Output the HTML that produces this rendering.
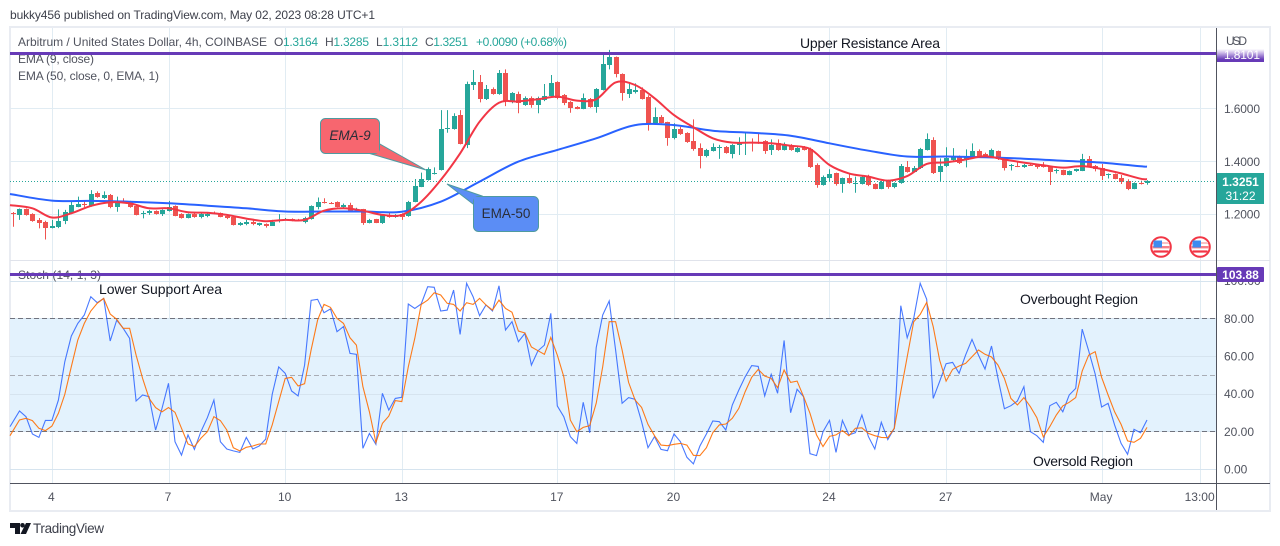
<!DOCTYPE html>
<html lang="en">
<head>
<meta charset="utf-8">
<title>Arbitrum / United States Dollar chart</title>
<style>
html,body{margin:0;padding:0;background:#fff;}
body{width:1280px;height:546px;overflow:hidden;}
svg{display:block;font-family:"Liberation Sans",sans-serif;}
</style>
</head>
<body>
<svg id="chart" xmlns="http://www.w3.org/2000/svg" width="1280" height="546" viewBox="0 0 1280 546">
  <defs>
    <linearGradient id="tagFade" x1="0" y1="0" x2="0" y2="1">
      <stop offset="0" stop-color="#ffffff"/>
      <stop offset="0.3" stop-color="#cbb8e8"/>
      <stop offset="0.8" stop-color="#673ab7"/>
      <stop offset="1" stop-color="#673ab7"/>
    </linearGradient>
  </defs>
  <rect x="0" y="0" width="1280" height="546" fill="#ffffff"/>
  <text x="10" y="19" font-size="12" fill="#3c3f4a" textLength="365" lengthAdjust="spacing">bukky456 published on TradingView.com, May 02, 2023 08:28 UTC+1</text>
  <rect x="10" y="27" width="1260" height="484" fill="#ffffff" stroke="#e9ecf2" stroke-width="2"/>

  <g id="gridLayer"></g>
  <g id="stochBackLayer"></g>
  <line x1="10" x2="1270" y1="260.5" y2="260.5" stroke="#e0e3eb" stroke-width="1"/>
  <g id="candleLayer"></g>
  <g id="lineLayer"></g>

  <polygon points="378,143 368,153 426,170" fill="#f7666f" stroke="#4f9aa0" stroke-width="1"/>
  <rect x="320.5" y="118.5" width="59" height="35" rx="5" fill="#f7666f" stroke="#4f9aa0" stroke-width="1"/>
  <polygon points="377,142 366,153 379,153 379,142" fill="#f7666f"/>
  <text x="350" y="140" font-size="13.5" font-style="italic" fill="#2a2e39" text-anchor="middle">EMA-9</text>

  <polygon points="447,184 473,204 482,196" fill="#5b8df5" stroke="#4f9aa0" stroke-width="1"/>
  <rect x="473.5" y="196.5" width="65" height="35" rx="5" fill="#5b8df5" stroke="#4f9aa0" stroke-width="1"/>
  <polygon points="474,203 483,197 474,197" fill="#5b8df5"/>
  <text x="506" y="218" font-size="13.5" fill="#2a2e39" text-anchor="middle">EMA-50</text>

  <text x="18" y="46" font-size="12" fill="#50535e" textLength="249" lengthAdjust="spacing">Arbitrum / United States Dollar, 4h, COINBASE</text>
  <text x="274" y="46" font-size="12" fill="#50535e" textLength="44" lengthAdjust="spacing">O<tspan fill="#26a69a">1.3164</tspan></text>
  <text x="325" y="46" font-size="12" fill="#50535e" textLength="44" lengthAdjust="spacing">H<tspan fill="#26a69a">1.3285</tspan></text>
  <text x="376" y="46" font-size="12" fill="#50535e" textLength="42" lengthAdjust="spacing">L<tspan fill="#26a69a">1.3112</tspan></text>
  <text x="425" y="46" font-size="12" fill="#50535e" textLength="43" lengthAdjust="spacing">C<tspan fill="#26a69a">1.3251</tspan></text>
  <text x="476" y="46" font-size="12" fill="#26a69a" textLength="91" lengthAdjust="spacing">+0.0090 (+0.68%)</text>
  <text x="18" y="63" font-size="12" fill="#50535e" textLength="76" lengthAdjust="spacing">EMA (9, close)</text>
  <text x="18" y="80" font-size="12" fill="#50535e" textLength="141" lengthAdjust="spacing">EMA (50, close, 0, EMA, 1)</text>
  <text x="18" y="279" font-size="12" fill="#50535e" textLength="83" lengthAdjust="spacing">Stoch (14, 1, 3)</text>

  <line x1="10" x2="1217" y1="53.5" y2="53.5" stroke="#673ab7" stroke-width="3"/>
  <line x1="10" x2="1217" y1="274.5" y2="274.5" stroke="#673ab7" stroke-width="3"/>

  <text x="800" y="48" font-size="14" fill="#131722" textLength="140" lengthAdjust="spacing">Upper Resistance Area</text>
  <text x="99" y="294" font-size="14" fill="#131722" textLength="123" lengthAdjust="spacing">Lower Support Area</text>
  <text x="1020" y="304" font-size="14" fill="#131722" textLength="118" lengthAdjust="spacing">Overbought Region</text>
  <text x="1033" y="466" font-size="14" fill="#131722" textLength="100" lengthAdjust="spacing">Oversold Region</text>

  <line x1="1216.5" x2="1216.5" y1="28" y2="510" stroke="#50535e" stroke-width="1"/>
  <line x1="10" x2="1270" y1="483.5" y2="483.5" stroke="#50535e" stroke-width="1"/>

  <g id="axisLabelLayer"></g>

  <text x="1226" y="45" font-size="12" fill="#50535e" textLength="21" lengthAdjust="spacing">USD</text>
  <rect x="1217" y="49" width="47" height="13" fill="url(#tagFade)"/>
  <text x="1224" y="59" font-size="12" fill="#ffffff" textLength="36" lengthAdjust="spacing">1.8101</text>
  <rect x="1217" y="267" width="47" height="15" rx="1" fill="#673ab7"/>
  <text x="1240.5" y="279" font-size="12" font-weight="bold" fill="#ffffff" text-anchor="middle">103.88</text>
  <rect x="1217" y="173" width="47" height="31" fill="#26a69a"/>
  <text x="1240.5" y="186" font-size="12" font-weight="bold" fill="#ffffff" text-anchor="middle">1.3251</text>
  <text x="1240.5" y="200" font-size="12" fill="#ffffff" text-anchor="middle">31:22</text>

  <g transform="translate(1161,247)">
    <circle r="9.8" fill="#ffffff" stroke="#f23645" stroke-width="2"/>
    <rect x="-8" y="-5" width="16" height="2" fill="#f9c0c4"/>
    <rect x="-8.5" y="-1" width="17" height="2.4" fill="#f77f88"/>
    <rect x="-7.5" y="3.4" width="15" height="2.2" fill="#f23645"/>
    <rect x="-7.5" y="-6.5" width="8.5" height="7" fill="#3d8bf0"/>
  </g>
  <g transform="translate(1200,247)">
    <circle r="9.8" fill="#ffffff" stroke="#f23645" stroke-width="2"/>
    <rect x="-8" y="-5" width="16" height="2" fill="#f9c0c4"/>
    <rect x="-8.5" y="-1" width="17" height="2.4" fill="#f77f88"/>
    <rect x="-7.5" y="3.4" width="15" height="2.2" fill="#f23645"/>
    <rect x="-7.5" y="-6.5" width="8.5" height="7" fill="#3d8bf0"/>
  </g>

  <g fill="#131722">
    <polygon points="10,523 20,523 20,534 15,534 15,528 10,528"/>
    <circle cx="22.5" cy="525.3" r="2.3"/>
    <polygon points="26,523 31,523 26,534 20.5,534"/>
  </g>
  <text x="33" y="533" font-size="13.5" fill="#3c3f4a" textLength="71" lengthAdjust="spacing">TradingView</text>
</svg>

<script>
var opens = [
1.205,1.197,1.218,1.200,1.178,1.171,1.149,1.150,1.175,1.203,
1.228,1.238,1.231,1.281,1.260,1.272,1.228,1.248,1.246,1.231,
1.200,1.203,1.210,1.200,1.213,1.231,1.200,1.186,1.202,1.189,
1.193,1.205,1.203,1.194,1.188,1.159,1.161,1.169,1.159,1.162,
1.156,1.174,1.178,1.181,1.179,1.171,1.181,1.226,1.247,1.243,
1.246,1.226,1.234,1.216,1.218,1.168,1.180,1.165,1.198,1.188,
1.200,1.194,1.247,1.304,1.329,1.352,1.367,1.521,1.522,1.575,
1.462,1.689,1.699,1.636,1.673,1.655,1.733,1.628,1.655,1.615,
1.640,1.615,1.632,1.647,1.700,1.651,1.626,1.606,1.599,1.635,
1.607,1.670,1.766,1.794,1.731,1.655,1.664,1.670,1.645,1.544,
1.567,1.548,1.487,1.522,1.506,1.477,1.450,1.420,1.440,1.453,
1.454,1.428,1.460,1.469,1.472,1.474,1.477,1.442,1.468,1.444,
1.460,1.436,1.455,1.447,1.386,1.310,1.338,1.354,1.314,1.337,
1.317,1.314,1.342,1.314,1.296,1.327,1.303,1.317,1.377,1.361,
1.373,1.443,1.479,1.358,1.382,1.405,1.418,1.405,1.415,1.438,
1.426,1.417,1.438,1.409,1.382,1.384,1.378,1.387,1.386,1.386,
1.378,1.363,1.366,1.349,1.362,1.365,1.407,1.382,1.373,1.348,
1.352,1.337,1.324,1.296,1.319,1.3164];
var highs = [
1.208,1.221,1.221,1.203,1.185,1.175,1.178,1.218,1.216,1.247,
1.266,1.253,1.291,1.286,1.286,1.276,1.266,1.260,1.250,1.233,
1.212,1.216,1.214,1.218,1.250,1.233,1.203,1.202,1.207,1.203,
1.205,1.210,1.206,1.197,1.190,1.170,1.178,1.178,1.167,1.165,
1.178,1.200,1.185,1.184,1.182,1.190,1.233,1.263,1.260,1.246,
1.248,1.240,1.243,1.224,1.220,1.182,1.182,1.198,1.207,1.200,
1.203,1.250,1.333,1.357,1.377,1.377,1.594,1.594,1.582,1.594,
1.702,1.746,1.727,1.689,1.680,1.746,1.748,1.662,1.664,1.646,
1.646,1.645,1.693,1.727,1.703,1.655,1.628,1.609,1.657,1.640,
1.677,1.809,1.822,1.797,1.733,1.695,1.695,1.680,1.650,1.604,
1.575,1.550,1.544,1.531,1.510,1.559,1.468,1.447,1.468,1.462,
1.458,1.465,1.491,1.508,1.487,1.506,1.480,1.483,1.483,1.471,
1.465,1.456,1.458,1.452,1.392,1.346,1.370,1.357,1.338,1.354,
1.342,1.346,1.349,1.317,1.326,1.330,1.320,1.390,1.401,1.382,
1.451,1.506,1.491,1.411,1.453,1.450,1.422,1.445,1.468,1.445,
1.433,1.448,1.441,1.412,1.390,1.400,1.390,1.392,1.389,1.397,
1.380,1.372,1.368,1.365,1.372,1.428,1.420,1.386,1.390,1.354,
1.354,1.348,1.332,1.320,1.327,1.3285];
var lows = [
1.152,1.178,1.194,1.171,1.146,1.104,1.146,1.147,1.162,1.200,
1.226,1.226,1.228,1.262,1.257,1.222,1.209,1.241,1.224,1.195,
1.184,1.197,1.198,1.193,1.210,1.192,1.183,1.184,1.186,1.184,
1.188,1.200,1.188,1.181,1.157,1.156,1.158,1.158,1.155,1.149,
1.155,1.168,1.176,1.173,1.173,1.165,1.179,1.218,1.240,1.238,
1.226,1.224,1.211,1.212,1.159,1.165,1.166,1.163,1.186,1.186,
1.178,1.190,1.245,1.302,1.327,1.350,1.365,1.508,1.520,1.464,
1.450,1.670,1.623,1.632,1.652,1.652,1.609,1.620,1.582,1.610,
1.603,1.582,1.628,1.640,1.635,1.613,1.584,1.597,1.597,1.603,
1.584,1.668,1.748,1.718,1.630,1.640,1.657,1.634,1.516,1.540,
1.544,1.459,1.483,1.500,1.470,1.440,1.373,1.415,1.437,1.409,
1.429,1.411,1.424,1.424,1.437,1.466,1.428,1.424,1.440,1.441,
1.440,1.433,1.441,1.375,1.300,1.308,1.323,1.308,1.281,1.315,
1.281,1.312,1.306,1.294,1.294,1.296,1.298,1.315,1.357,1.358,
1.371,1.441,1.352,1.323,1.378,1.401,1.390,1.377,1.412,1.414,
1.414,1.414,1.405,1.365,1.365,1.378,1.375,1.382,1.372,1.376,
1.310,1.354,1.347,1.347,1.360,1.363,1.378,1.362,1.329,1.335,
1.332,1.314,1.291,1.294,1.312,1.3112];
var closes = [
1.200,1.218,1.197,1.174,1.168,1.149,1.155,1.174,1.207,1.234,
1.238,1.236,1.276,1.266,1.271,1.226,1.247,1.246,1.228,1.197,
1.205,1.213,1.200,1.216,1.228,1.194,1.185,1.200,1.188,1.200,
1.200,1.203,1.190,1.184,1.159,1.165,1.171,1.162,1.165,1.155,
1.171,1.178,1.180,1.175,1.175,1.184,1.231,1.247,1.243,1.241,
1.228,1.234,1.213,1.219,1.168,1.178,1.168,1.195,1.188,1.197,
1.190,1.247,1.306,1.333,1.370,1.357,1.522,1.525,1.572,1.466,
1.693,1.700,1.636,1.673,1.655,1.736,1.628,1.657,1.620,1.639,
1.615,1.639,1.647,1.698,1.639,1.622,1.603,1.599,1.639,1.606,
1.673,1.769,1.794,1.731,1.660,1.674,1.670,1.636,1.546,1.567,
1.546,1.489,1.521,1.503,1.473,1.447,1.420,1.443,1.454,1.455,
1.431,1.462,1.468,1.472,1.469,1.470,1.440,1.462,1.443,1.462,
1.443,1.452,1.444,1.380,1.310,1.342,1.352,1.314,1.336,1.317,
1.319,1.342,1.309,1.296,1.323,1.304,1.318,1.382,1.359,1.376,
1.447,1.483,1.357,1.383,1.414,1.418,1.395,1.420,1.440,1.417,
1.417,1.443,1.407,1.375,1.386,1.381,1.386,1.385,1.377,1.378,
1.359,1.367,1.349,1.363,1.370,1.407,1.380,1.371,1.346,1.353,
1.334,1.322,1.295,1.318,1.317,1.3251];

/* EMA 9 read every 3rd bar, EMA 50 read every 6th bar; the final value sits on the last bar */
var ema9Every3Bars = [
1.234,1.222,1.187,1.203,1.231,1.245,1.241,1.222,1.222,1.207,
1.205,1.197,1.183,1.173,1.178,1.178,1.213,1.222,1.213,1.197,
1.197,1.247,1.329,1.430,1.550,1.622,1.627,1.635,1.645,1.630,
1.635,1.699,1.689,1.639,1.575,1.529,1.487,1.471,1.471,1.468,
1.459,1.447,1.386,1.354,1.342,1.327,1.344,1.390,1.396,1.407,
1.419,1.407,1.395,1.385,1.376,1.382,1.371,1.354,1.334,1.332];
var ema50Every6Bars = [
1.276,1.251,1.250,1.247,1.241,1.232,1.222,1.210,1.210,1.210,
1.209,1.247,1.323,1.399,1.443,1.487,1.537,1.537,1.516,1.508,
1.497,1.468,1.440,1.418,1.418,1.415,1.410,1.402,1.395,1.381,1.380];

var stochK = [
22.5,30.8,27.8,18.6,16.8,25.8,25.8,36.6,57,70.6,
77.3,81.8,91.5,88.3,90.6,68,79.1,74.7,69.4,36.1,
39.3,38.4,20.7,32.2,45.5,14.5,7.4,18.1,10.4,19.8,
27.3,36.6,14.5,10.6,9.6,8.8,16.8,10.6,12.2,15.9,
39.6,54.2,50.8,41.4,38.8,55.2,89.6,90.1,83,85,
72.9,75.6,61.4,60.9,11,18.9,13.1,40.2,31.3,37.5,
38.1,87.6,85.3,87.6,96.8,96.5,83.9,84.4,95,71.5,
98.6,91.5,81.4,87.1,83.9,97.3,73.8,78.2,67.6,72,
55.2,62.7,65.8,82.7,33.5,27.8,17.2,13.6,35.4,19.3,
64.4,81.8,89.2,63.2,34.9,37.9,37,25.1,11.3,17.2,
10.4,9.7,18.6,14.5,6.2,2.7,12.2,18.6,25.5,25.1,
20.7,34,41.9,49,54.9,54.5,38.8,50.3,40.2,68.3,
29.9,42.3,38.4,8.1,7.1,19.8,25.8,8.8,25.8,18.1,
19.3,28.7,17.2,10.6,24.8,15.6,21.6,86.7,69.7,80,
98.6,90.1,37.5,46.4,55.9,56.6,50.8,60.5,68.8,60.5,
53.1,65.3,48.1,32,33.6,36.1,43.7,19.8,17.7,14.2,
33.6,35.4,30.4,39.3,42.8,74.3,62.7,50.4,32.9,34.9,
23.4,13.6,7.8,21.1,19.3,26];
var stochD = [
17.7,26,26.9,25.7,21.6,20.4,22.8,29.6,39.6,54.3,
68.5,77.3,83.9,88,90.6,82.3,79.5,74.7,74.7,60.5,
48.1,37.5,32.6,30.4,32.6,30.1,21.6,13.3,11.9,16.3,
19.8,27.8,25.7,20.7,11.3,9.6,11.5,12.2,13.3,13.3,
23.4,35.8,48.1,48.7,44.1,45.3,63.2,79.1,87.4,85.8,
80,77.3,69.7,65.8,43.7,30.4,14,24.2,28.1,36.3,
35.8,54.3,69.4,87.4,89.7,93.6,92.4,88,87.4,83.9,
88.3,87.4,90.6,87.1,84.4,89.7,85.3,83.2,73.3,72.2,
64.8,62.8,60.9,69.9,60.5,49,26,19.8,22.1,23,
34.9,54.3,78.2,78.2,63.2,46,36.6,32.7,23.7,17.7,
12.7,12.4,13.1,13.6,12.7,7.3,7.1,11.3,19.3,23.4,
23.9,26.9,32.2,41.1,48.7,52.9,49.4,48.1,43.2,52.6,
46,46.7,38.4,29.6,18.1,11.9,17.3,18.1,20.4,17.7,
21.6,21.9,18.9,17.7,16.8,16.6,21.6,41.1,59.6,78.2,
82.1,88.5,75.6,57.9,46.7,52.9,54.7,56.1,59.6,63.2,
60.9,59.5,55.2,48.1,37.5,34,37.9,33.1,27.3,17,
22.5,28.7,33.5,35.4,37.9,52,60.5,62.3,48.7,39.3,
30.4,23.7,14.9,14.2,16.3,22.1];

var currentPrice = [1.3251];
var priceTicks = [1.2, 1.4, 1.6];
var priceTickLabels = ['1.2000', '1.4000', '1.6000'];
var stochTicks = [0, 20, 40, 60, 80, 100];
var stochTickLabels = ['0.00', '20.00', '40.00', '60.00', '80.00', '100.00'];
var stochBands = [80, 50, 20];
var dateBars = [6, 24, 42, 60, 84, 102, 126, 144, 168, 183.2];
var dateLabels = ['4', '7', '10', '13', '17', '20', '24', '27', 'May', '13:00'];

var NS = 'http://www.w3.org/2000/svg';
var lastBar = opens.length - 1;
function xBar(i) { return 13 + 6.48 * i; }
function yPrice(p) { return 161.3 - (p - 1.4) * 264; }
function yStoch(v) { return 469 - v * 1.883; }
function mk(tag, parent, props) {
  var el = document.createElementNS(NS, tag);
  for (var k in props) { el.setAttribute(k, props[k]); }
  parent.appendChild(el);
  return el;
}
var gridLayer = document.getElementById('gridLayer');
var stochBackLayer = document.getElementById('stochBackLayer');
var candleLayer = document.getElementById('candleLayer');
var lineLayer = document.getElementById('lineLayer');
var axisLabelLayer = document.getElementById('axisLabelLayer');
var GRID = '#e1ecf3';

dateBars.forEach(function (b, i) {
  var x = Math.round(xBar(b)) + 0.5;
  var v = mk('line', gridLayer, { x1: x, x2: x, y1: 28, y2: 483, stroke: GRID, 'stroke-width': 1 });
  
  
  var t = mk('text', axisLabelLayer, { x: xBar(b) - 0.5, y: 501, 'font-size': 12, fill: '#50535e', 'text-anchor': 'middle' });
  t.textContent = dateLabels[i];
  
  
});

priceTicks.forEach(function (p, i) {
  var y = Math.round(yPrice(p)) + 0.5;
  var g = mk('line', gridLayer, { x1: 10, x2: 1216, y1: y, y2: y, stroke: GRID, 'stroke-width': 1 });
  
  
  var t = mk('text', axisLabelLayer, { x: 1224, y: yPrice(p) + 4.5, 'font-size': 12, fill: '#50535e', textLength: 36, lengthAdjust: 'spacing' });
  t.textContent = priceTickLabels[i];
  
  
});

var bandTop = yStoch(stochBands[0]);
var bandBottom = yStoch(stochBands[2]);
var band = mk('rect', stochBackLayer, { x: 10, y: bandTop, width: 1206, height: bandBottom - bandTop, fill: '#e3f2fd' });



stochTicks.forEach(function (v, i) {
  var y = Math.round(yStoch(v)) + 0.5;
  var g = mk('line', stochBackLayer, { x1: 10, x2: 1216, y1: y, y2: y, stroke: '#d6e4ef', 'stroke-width': 1 });
  
  
  var t = mk('text', axisLabelLayer, { x: 1224, y: yStoch(v) + 4.5, 'font-size': 12, fill: '#50535e' });
  t.textContent = stochTickLabels[i];
  
  
});

stochBands.forEach(function (v) {
  var y = Math.round(yStoch(v)) + 0.5;
  var mid = v === 50;
  var d = mk('line', stochBackLayer, { x1: 10, x2: 1216, y1: y, y2: y, stroke: mid ? '#a9adb5' : '#70737e', 'stroke-width': 1, 'stroke-dasharray': '5 3' });
  
  
});

opens.forEach(function (o, i) {
  var c = closes[i];
  var color = c >= o ? '#26a69a' : '#ef5350';
  var x = Math.round(xBar(i));
  var wick = mk('line', candleLayer, { x1: x + 0.5, x2: x + 0.5, y1: yPrice(highs[i]), y2: yPrice(lows[i]), stroke: color, 'stroke-width': 1 });
  
  
  var top = Math.round(yPrice(Math.max(o, c)));
  var h = Math.max(1, Math.round(yPrice(Math.min(o, c))) - top);
  var body = mk('rect', candleLayer, { x: x - 2, y: top, width: 5, height: h, fill: color });
  
  
});

var dots = mk('line', lineLayer, { x1: 10, x2: 1216, y1: Math.round(yPrice(currentPrice[0])) + 0.5, y2: Math.round(yPrice(currentPrice[0])) + 0.5, stroke: '#26a69a', 'stroke-width': 1, 'stroke-dasharray': '1 2' });



function seriesPoints(values, step, yFn) {
  return values.map(function (v, i) {
    return [i === 0 ? 10 : xBar(Math.min(i * step, lastBar)), yFn(v)];
  });
}
function straightPath(values, step, yFn) {
  return seriesPoints(values, step, yFn).map(function (p, i) {
    return (i ? 'L' : 'M') + p[0].toFixed(1) + ' ' + p[1].toFixed(1);
  }).join(' ');
}
function smoothPath(values, step, yFn) {
  var pts = seriesPoints(values, step, yFn);
  var d = 'M' + pts[0][0].toFixed(1) + ' ' + pts[0][1].toFixed(1);
  for (var i = 0; i < pts.length - 1; i++) {
    var p0 = pts[Math.max(0, i - 1)], p1 = pts[i], p2 = pts[i + 1], p3 = pts[Math.min(pts.length - 1, i + 2)];
    var c1x = p1[0] + (p2[0] - p0[0]) / 6, c1y = p1[1] + (p2[1] - p0[1]) / 6;
    var c2x = p2[0] - (p3[0] - p1[0]) / 6, c2y = p2[1] - (p3[1] - p1[1]) / 6;
    d += ' C' + c1x.toFixed(1) + ' ' + c1y.toFixed(1) + ' ' + c2x.toFixed(1) + ' ' + c2y.toFixed(1) + ' ' + p2[0].toFixed(1) + ' ' + p2[1].toFixed(1);
  }
  return d;
}
var ema50Line = mk('path', lineLayer, { d: smoothPath(ema50Every6Bars, 6, yPrice), fill: 'none', stroke: '#2962ff', 'stroke-width': 2, 'stroke-linejoin': 'round' });


var ema9Line = mk('path', lineLayer, { d: smoothPath(ema9Every3Bars, 3, yPrice), fill: 'none', stroke: '#f23645', 'stroke-width': 2, 'stroke-linejoin': 'round' });


var kLine = mk('path', lineLayer, { d: straightPath(stochK, 1, yStoch), fill: 'none', stroke: '#2962ff', 'stroke-width': 1.1, opacity: 0.85 });


var dLine = mk('path', lineLayer, { d: straightPath(stochD, 1, yStoch), fill: 'none', stroke: '#ff6d00', 'stroke-width': 1.1, opacity: 0.9 });


</script>
</body>
</html>
